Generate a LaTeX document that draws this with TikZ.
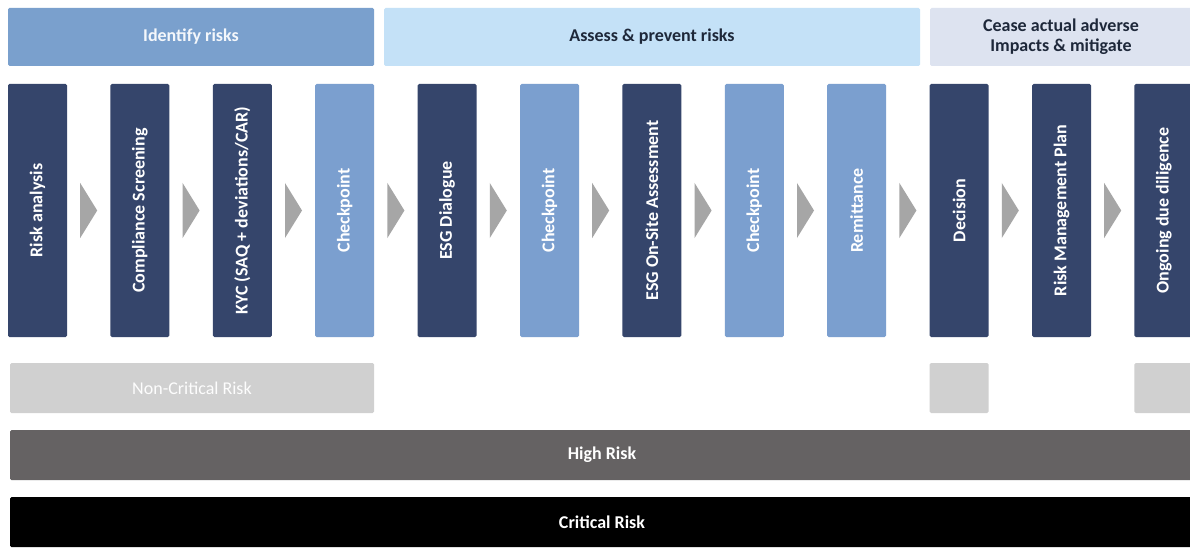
\documentclass[tikz,border=0pt]{standalone}
\usepackage{fontspec}
\setmainfont{Carlito}
\usetikzlibrary{calc}

\definecolor{stepDark}{RGB}{53,69,107}
\definecolor{stepLight}{RGB}{123,159,207}
\definecolor{hdIdentify}{RGB}{122,160,205}
\definecolor{hdAssess}{RGB}{196,225,247}
\definecolor{hdCease}{RGB}{221,227,240}
\definecolor{hdAssessText}{RGB}{30,40,58}
\definecolor{chevronFill}{RGB}{166,166,166}
\definecolor{riskLow}{RGB}{208,208,208}
\definecolor{riskHigh}{RGB}{101,98,99}
\definecolor{riskCrit}{RGB}{0,0,0}

\tikzset{
  phase/.style={minimum height=58pt,inner sep=0pt,outer sep=0pt,rounded corners=1.5pt,
    font=\fontsize{18}{20}\selectfont\bfseries},
  stepbox/.style={minimum width=59pt,minimum height=253pt,inner sep=0pt,outer sep=0pt,rounded corners=1.5pt},
  steptext/.style={rotate=90,text=white,inner sep=0pt,font=\fontsize{18}{20}\selectfont\bfseries},
  chevron/.style={fill=chevronFill},
  riskbar/.style={minimum height=50pt,inner sep=0pt,outer sep=0pt,rounded corners=1.5pt,
    text=white,font=\fontsize{18}{20}\selectfont\bfseries}
}

\begin{document}
\begin{tikzpicture}[x=1pt,y=1pt]
\path[use as bounding box,fill=white] (0,0) rectangle (1190,547);

% phase headers
\node[phase,fill=hdIdentify,text=white!92!hdIdentify,minimum width=366pt] (identify) at (191,510) {Identify risks};
\node[phase,fill=hdAssess,text=hdAssessText,minimum width=536pt] (assess) at (652,510) {Assess \& prevent risks};
\node[phase,fill=hdCease,text=hdAssessText,minimum width=262pt,align=center] (cease) at (1061,510) {Cease actual adverse\\Impacts \& mitigate};

% process steps
\node[stepbox,fill=stepDark] (riskan) at (37.5,336.5) {};
\node[steptext] at (riskan) {Risk analysis};
\node[stepbox,fill=stepDark] (screen) at (139.9,336.5) {};
\node[steptext] at (screen) {Compliance Screening};
\node[stepbox,fill=stepDark] (kyc) at (242.3,336.5) {};
\node[steptext] at (kyc) {KYC (SAQ + deviations/CAR)};
\node[stepbox,fill=stepLight] (checka) at (344.7,336.5) {};
\node[steptext] at (checka) {Checkpoint};
\node[stepbox,fill=stepDark] (dialog) at (447.1,336.5) {};
\node[steptext] at (dialog) {ESG Dialogue};
\node[stepbox,fill=stepLight] (checkb) at (549.5,336.5) {};
\node[steptext] at (checkb) {Checkpoint};
\node[stepbox,fill=stepDark] (onsite) at (651.9,336.5) {};
\node[steptext] at (onsite) {ESG On-Site Assessment};
\node[stepbox,fill=stepLight] (checkc) at (754.3,336.5) {};
\node[steptext] at (checkc) {Checkpoint};
\node[stepbox,fill=stepLight] (remit) at (856.7,336.5) {};
\node[steptext] at (remit) {Remittance};
\node[stepbox,fill=stepDark] (decide) at (959.1,336.5) {};
\node[steptext] at (decide) {Decision};
\node[stepbox,fill=stepDark] (rmplan) at (1061.5,336.5) {};
\node[steptext] at (rmplan) {Risk Management Plan};
\node[stepbox,fill=stepDark] (ongoing) at (1163.9,336.5) {};
\node[steptext] at (ongoing) {Ongoing due diligence};

% chevrons between steps
\foreach \a/\b in {riskan/screen,screen/kyc,kyc/checka,checka/dialog,dialog/checkb,checkb/onsite,
    onsite/checkc,checkc/remit,remit/decide,decide/rmplan,rmplan/ongoing}
  \fill[chevron] ($(\a.east)!0.5!(\b.west)$) +(-8.5,27.5) -- +(8.5,0) -- +(-8.5,-27.5) -- cycle;

% risk levels
\node[riskbar,fill=riskLow,text=white!95!riskLow,font=\fontsize{18}{20}\selectfont,minimum width=364pt] (noncrit) at (192,159) {Non-Critical Risk};
\node[riskbar,fill=riskLow,minimum width=59pt] (decgap) at (decide |- noncrit) {};
\node[riskbar,fill=riskLow,minimum width=59pt] (onggap) at (ongoing |- noncrit) {};
\node[riskbar,fill=riskHigh,minimum width=1184pt] (high) at (602,92) {High Risk};
\node[riskbar,fill=riskCrit,minimum width=1184pt] (crit) at (602,25) {Critical Risk};
\end{tikzpicture}
\end{document}
